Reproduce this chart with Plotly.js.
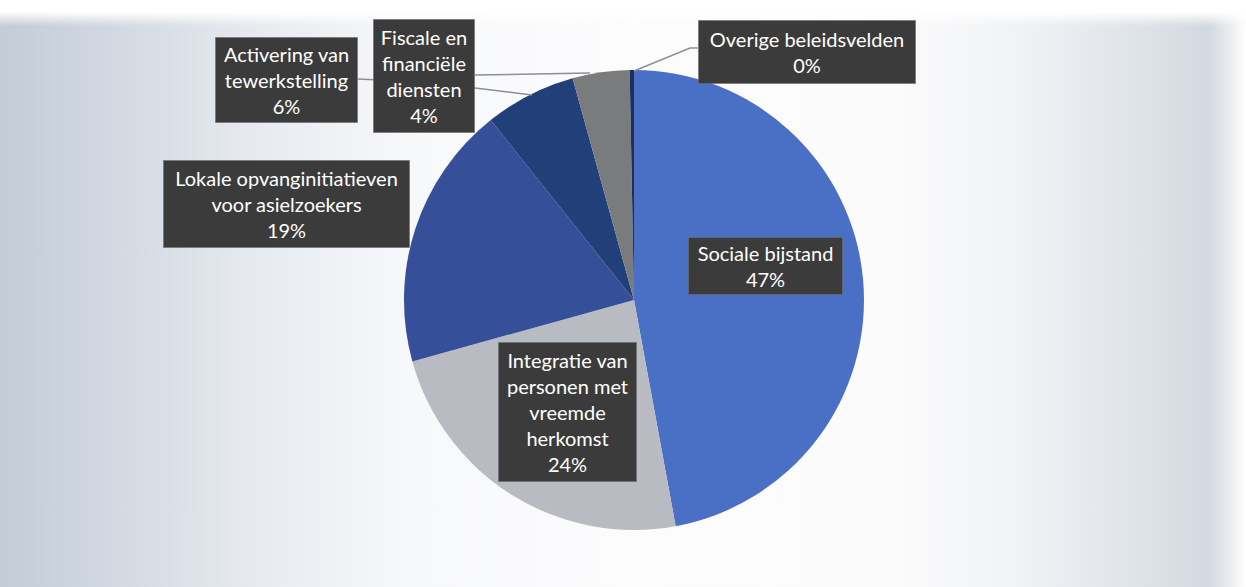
<!DOCTYPE html>
<html>
<head>
<meta charset="utf-8">
<script src="https://cdn.plot.ly/plotly-3.0.1.min.js"></script>
<style>
  html, body { margin:0; padding:0; width:1246px; height:587px; overflow:hidden; background:#ffffff; }
  #bg { position:absolute; left:0; top:0; width:1246px; height:587px;
    background:
      linear-gradient(to bottom, #ffffff 0px, #ffffff 12px, rgba(255,255,255,0) 26px),
      linear-gradient(to right, #c3ccd7 0%, #d0d7e0 8%, #e6eaef 20%, #f7f8fa 33%, #fcfcfd 50%, #fbfbfc 72%, #f0f2f5 82%, #dfe4e9 91%, #d3d9e0 97%, #eef0f2 99%, #ffffff 100%);
  }
  #chart { position:absolute; left:0; top:0; width:1246px; height:587px; }
</style>
</head>
<body>
<div id="bg"></div>
<div id="chart"></div>
<script>
// ---- data ----
const categories = [
  "Sociale bijstand",
  "Integratie van personen met vreemde herkomst",
  "Lokale opvanginitiatieven voor asielzoekers",
  "Activering van tewerkstelling",
  "Fiscale en financiële diensten",
  "Overige beleidsvelden"
];
const labelLines = [
  ["Sociale bijstand"],
  ["Integratie van", "personen met", "vreemde", "herkomst"],
  ["Lokale opvanginitiatieven", "voor asielzoekers"],
  ["Activering van", "tewerkstelling"],
  ["Fiscale en", "financiële", "diensten"],
  ["Overige beleidsvelden"]
];
const values = [47.1, 23.6, 18.6, 6.4, 4.0, 0.3];
const colors = ["#4a70c6", "#b8bcc2", "#354f99", "#213f78", "#7a7b7d", "#1c2f5c"];

// ---- layout helpers ----
const W = 1246, H = 587;
const px = x => x / W;
const py = y => 1 - y / H;

// pie geometry (pixels)
const cx = 634, cy = 300, r = 230;

// label boxes: centre x, centre y, width, height (pixels)
const boxes = [
  [765, 266, 155, 58],
  [567, 412, 139, 140],
  [286, 204, 247, 88],
  [286, 80, 143, 86],
  [424, 76, 102, 114],
  [807, 52, 218, 64]
];

const total = values.reduce((a, b) => a + b, 0);
const annotations = categories.map((c, i) => {
  const pct = Math.round(values[i] / total * 100) + "%";
  const [bx, by, bw, bh] = boxes[i];
  return {
    xref: "paper", yref: "paper",
    x: px(bx), y: py(by), xanchor: "center", yanchor: "middle",
    text: labelLines[i].concat([pct]).join("<br>"),
    showarrow: false,
    bgcolor: "#3b3b3b",
    bordercolor: "rgba(110,110,110,0.6)", borderwidth: 1, borderpad: 0,
    width: bw - 2, height: bh - 2, align: "center", valign: "middle",
    font: { family: "Lato, 'Open Sans', sans-serif", size: 20, color: "#ffffff" }
  };
});

const leaderPts = [
  [[358, 79], [380, 80], [475, 88], [532, 95]],
  [[475, 75], [590, 73]],
  [[698, 48], [690, 48], [634, 71]]
];
const shapes = leaderPts.map(pts => ({
  type: "path", xref: "paper", yref: "paper",
  path: pts.map((p, k) => (k ? "L" : "M") + px(p[0]) + "," + py(p[1])).join(" "),
  line: { color: "#8d8f92", width: 1.5 }, layer: "above"
}));

const trace = {
  type: "pie",
  labels: categories,
  values: values,
  sort: false,
  direction: "clockwise",
  rotation: 0,
  textinfo: "none",
  hoverinfo: "label+percent",
  marker: { colors: colors, line: { width: 0 } },
  domain: { x: [px(cx - r), px(cx + r)], y: [py(cy + r), py(cy - r)] },
  showlegend: false
};

const layout = {
  width: W, height: H,
  margin: { l: 0, r: 0, t: 0, b: 0 },
  paper_bgcolor: "rgba(0,0,0,0)",
  plot_bgcolor: "rgba(0,0,0,0)",
  showlegend: false,
  annotations: annotations,
  shapes: shapes
};

Plotly.newPlot("chart", [trace], layout, { displayModeBar: false, staticPlot: true });
</script>
</body>
</html>
